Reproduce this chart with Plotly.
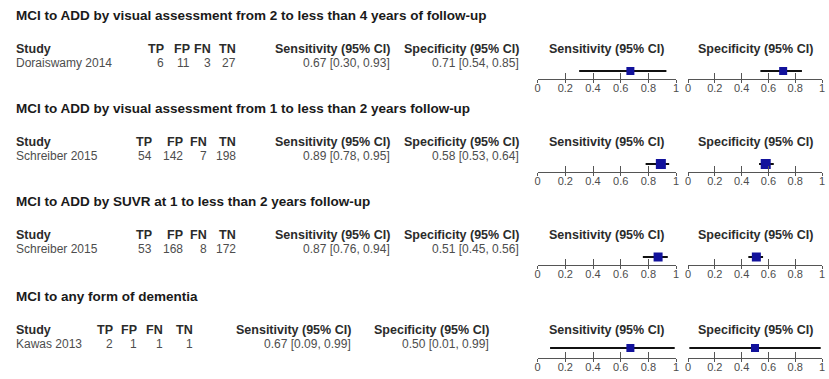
import plotly.graph_objects as go

W, H = 829, 379

panel_titles = [
    "MCI to ADD by visual assessment from 2 to less than 4 years of follow-up",
    "MCI to ADD by visual assessment from 1 to less than 2 years follow-up",
    "MCI to ADD by SUVR at 1 to less than 2 years follow-up",
    "MCI to any form of dementia",
]
studies = ["Doraiswamy 2014", "Schreiber 2015", "Schreiber 2015", "Kawas 2013"]
tp = [6, 54, 53, 2]
fp = [11, 142, 168, 1]
fn = [3, 7, 8, 1]
tn = [27, 198, 172, 1]
sens = [0.67, 0.89, 0.87, 0.67]
sens_lo = [0.30, 0.78, 0.76, 0.09]
sens_hi = [0.93, 0.95, 0.94, 0.99]
spec = [0.71, 0.58, 0.51, 0.50]
spec_lo = [0.54, 0.53, 0.45, 0.01]
spec_hi = [0.85, 0.64, 0.56, 0.99]
tick_vals = [0, 0.2, 0.4, 0.6, 0.8, 1]
tick_text = ["0", "0.2", "0.4", "0.6", "0.8", "1"]

# layout (pixels)
header_y = [49, 142, 235, 330]
col_right = [
    [164, 190, 212, 237, 392, 522],
    [152, 183, 208, 237, 392, 522],
    [152, 183, 208, 237, 392, 522],
    [113, 137, 163, 193, 353, 492],
]
sens_dom = (538.5, 678.0)
spec_dom = (690.0, 825.0)
axis_off = [30, 30, 30, 28]     # header -> axis line
mark_off = [8, 8, 8, 10]        # marker above axis line
mark_size = [8, 10, 9, 8]
LEFT = 11

FONT = "Liberation Sans, Arial, sans-serif"
TITLE_C = "#1a1a1a"
HEAD_C = "#2b2b2b"
DATA_C = "#4d4d4d"
BLUE = "#12129c"


def px(x):
    return x / W


def py(y):
    return 1 - y / H


fig = go.Figure()
ann = []


def add_text(x, y, text, anchor, size, color):
    ann.append(dict(x=px(x), y=py(y), text=text, xanchor=anchor, yanchor="middle",
                    xref="paper", yref="paper", showarrow=False,
                    font=dict(size=size, color=color, family=FONT)))


heads = ["TP", "FP", "FN", "TN", "Sensitivity (95% CI)", "Specificity (95% CI)"]
n_ax = 0
for p in range(4):
    hy = header_y[p]
    add_text(LEFT, hy - 34, "<b>" + panel_titles[p] + "</b>", "left", 13.5, TITLE_C)
    add_text(LEFT, hy, "<b>Study</b>", "left", 12.5, HEAD_C)
    for h_txt, xr in zip(heads, col_right[p]):
        add_text(xr, hy, "<b>" + h_txt + "</b>", "right", 12.5, HEAD_C)
    ry = hy + 14
    add_text(LEFT, ry, studies[p], "left", 12, DATA_C)
    vals = [str(tp[p]), str(fp[p]), str(fn[p]), str(tn[p]),
            f"{sens[p]:.2f} [{sens_lo[p]:.2f}, {sens_hi[p]:.2f}]",
            f"{spec[p]:.2f} [{spec_lo[p]:.2f}, {spec_hi[p]:.2f}]"]
    for v, xr in zip(vals, col_right[p]):
        add_text(xr, ry, v, "right", 12, DATA_C)
    for dom, t in ((sens_dom, "Sensitivity (95% CI)"), (spec_dom, "Specificity (95% CI)")):
        add_text((dom[0] + dom[1]) / 2, hy, "<b>" + t + "</b>", "center", 12.5, HEAD_C)

    axis_y = hy + axis_off[p]
    off = mark_off[p]
    y0 = py(axis_y)
    y1 = py(axis_y - 2 * off)
    for dom, est, lo, hi in ((sens_dom, sens, sens_lo, sens_hi),
                             (spec_dom, spec, spec_lo, spec_hi)):
        # main axes (line, upward ticks, labels) with the study estimate
        n_ax += 1
        i = n_ax
        xa, ya = f"xaxis{i}", f"yaxis{i}"
        xr_, yr_ = f"x{i}", f"y{i}"
        fig.add_trace(go.Scatter(
            x=[est[p]], y=[0.5], mode="markers",
            marker=dict(symbol="square", size=mark_size[p], color=BLUE, line=dict(width=0)),
            error_x=dict(type="data", symmetric=False,
                         array=[hi[p] - est[p]], arrayminus=[est[p] - lo[p]],
                         color="#111111", thickness=2, width=0),
            xaxis=xr_, yaxis=yr_, showlegend=False, hoverinfo="skip"))
        fig.layout[xa] = dict(domain=[px(dom[0]), px(dom[1])], range=[0, 1], anchor=yr_,
                              showgrid=False, zeroline=False, showline=True,
                              linecolor="#555555", linewidth=1,
                              ticks="inside", ticklen=6, tickcolor="#555555", tickwidth=1,
                              tickvals=tick_vals, ticktext=tick_text,
                              ticklabelstandoff=-1, ticklabeloverflow="allow",
                              tickfont=dict(size=11, color=DATA_C, family=FONT),
                              fixedrange=True)
        fig.layout[ya] = dict(domain=[y0, y1], range=[0, 1], anchor=xr_, visible=False,
                              fixedrange=True)
        # twin axes at the same place: downward half of the crossing ticks
        n_ax += 1
        j = n_ax
        fig.add_trace(go.Scatter(x=[], y=[], xaxis=f"x{j}", yaxis=f"y{j}",
                                 showlegend=False, hoverinfo="skip"))
        fig.layout[f"xaxis{j}"] = dict(domain=[px(dom[0]), px(dom[1])], range=[0, 1],
                                       anchor=f"y{j}", showgrid=False, zeroline=False,
                                       showline=False, ticks="outside", ticklen=3,
                                       tickcolor="#555555", tickwidth=1,
                                       tickvals=tick_vals, showticklabels=False,
                                       fixedrange=True)
        fig.layout[f"yaxis{j}"] = dict(domain=[y0, y1], range=[0, 1], anchor=f"x{j}",
                                       visible=False, fixedrange=True)

fig.update_layout(
    width=W, height=H, margin=dict(l=0, r=0, t=0, b=0),
    paper_bgcolor="white", plot_bgcolor="rgba(0,0,0,0)",
    annotations=ann,
)

# remove the page's default 8px body margin so the chart sits at the window origin
fig.write_html("out.html",
               config={"displayModeBar": False},
               post_script="document.body.style.margin='0';document.body.style.padding='0';")
